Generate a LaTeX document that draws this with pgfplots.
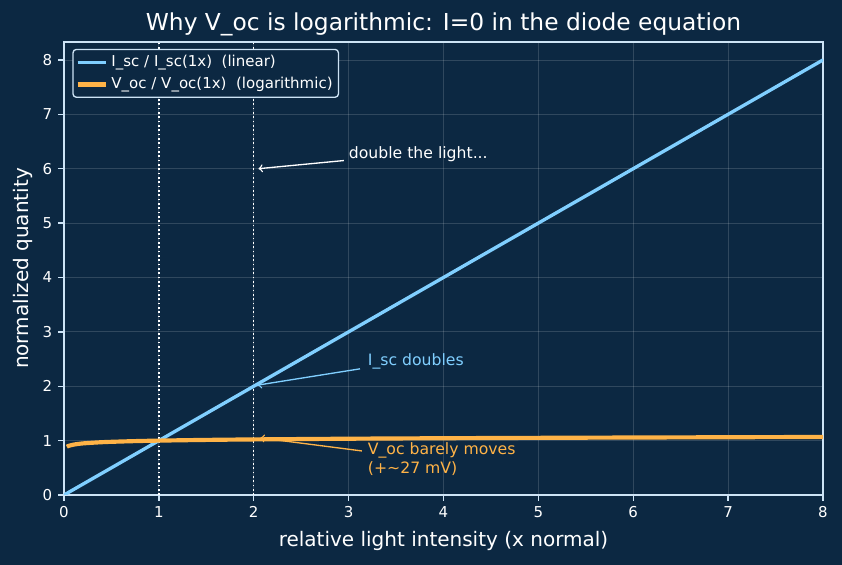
\documentclass[border=0pt]{standalone}
\usepackage{fontspec}
\setmainfont{DejaVu Sans}
\usepackage{pgfplots}
\pgfplotsset{compat=1.18}
\definecolor{bg}{HTML}{0C2842}
\definecolor{spine}{HTML}{CDE3F5}
\definecolor{isc}{HTML}{80CFFF}
\definecolor{voc}{HTML}{FFB347}
\begin{document}
\begin{tikzpicture}
\path[use as bounding box, fill=bg] (-38.4pt,-42pt) rectangle (466.8pt,297pt);
\begin{axis}[
  at={(0,0)}, anchor=south west,
  scale only axis, width=455.4pt, height=271.8pt,
  xmin=0, xmax=8, ymin=0, ymax=8.33,
  xtick={0,1,...,8}, ytick={0,1,...,8},
  axis line style={spine, line width=0.8pt},
  tick style={spine, line width=0.8pt},
  tick align=outside, major tick length=3.5pt,
  xtick pos=bottom, ytick pos=left,
  tick label style={white, font=\fontsize{9}{11}\selectfont},
  /pgf/number format/assume math mode=true,
  grid=major, grid style={white, opacity=0.15, line width=0.5pt},
  xlabel={relative light intensity (x normal)},
  ylabel={normalized quantity},
  label style={white, font=\fontsize{12}{14}\selectfont},
  xlabel style={yshift=-1pt},
  ylabel style={yshift=-1pt},
  title={Why V\_oc is logarithmic: I=0 in the diode equation},
  title style={white, font=\fontsize{14}{16}\selectfont, yshift=-6pt},
  legend style={at={(0.011,0.985)}, anchor=north west, fill=bg, draw=spine, rounded corners=2pt,
    text=white, font=\fontsize{9}{11}\selectfont, line width=0.8pt, inner sep=1.5pt, row sep=1pt},
  legend cell align=left,
  legend image code/.code={\draw[#1] (0cm,0cm) -- (0.6cm,0cm);},
]
\draw[white, line width=0.8pt, dash pattern=on 1pt off 1.6pt] (axis cs:1,0) -- (axis cs:1,8.33);
\draw[white, line width=0.8pt, dash pattern=on 1pt off 1.6pt] (axis cs:2,0) -- (axis cs:2,8.33);
\addplot[isc, line width=2pt] coordinates {(0,0) (1,1) (2,2) (3,3) (4,4) (5,5) (6,6) (7,7) (8,8)};
\addlegendentry{I\_sc / I\_sc(1x)~ (linear)}
\addplot[voc, line width=2.5pt, smooth] coordinates {(0.03,0.888) (0.05,0.904) (0.1,0.926) (0.15,0.939) (0.2,0.949) (0.3,0.961) (0.4,0.971) (0.5,0.978) (0.75,0.991) (1,1.000) (1.5,1.013) (2,1.022) (3,1.035) (4,1.044) (5,1.051) (6,1.057) (7,1.062) (8,1.067)};
\addlegendentry{V\_oc / V\_oc(1x)~ (logarithmic)}
\draw[white, ->, line width=0.8pt] (axis cs:2.95,6.15) -- (axis cs:2.05,6.0);
\node[white, anchor=west, font=\fontsize{9.4}{11}\selectfont, inner sep=0pt] at (axis cs:3.0,6.27) {double the light...};
\draw[isc, ->, line width=0.8pt] (axis cs:3.12,2.32) -- (axis cs:2.04,2.02);
\node[isc, anchor=west, font=\fontsize{9.4}{11}\selectfont, inner sep=0pt] at (axis cs:3.2,2.46) {I\_sc doubles};
\draw[voc, ->, line width=0.8pt] (axis cs:3.14,0.81) -- (axis cs:2.07,1.05);
\node[voc, anchor=north west, align=left, font=\fontsize{9.4}{11.3}\selectfont, inner sep=0pt] at (axis cs:3.2,0.97) {V\_oc barely moves\\(+\textasciitilde27 mV)};
\end{axis}
\end{tikzpicture}
\end{document}
